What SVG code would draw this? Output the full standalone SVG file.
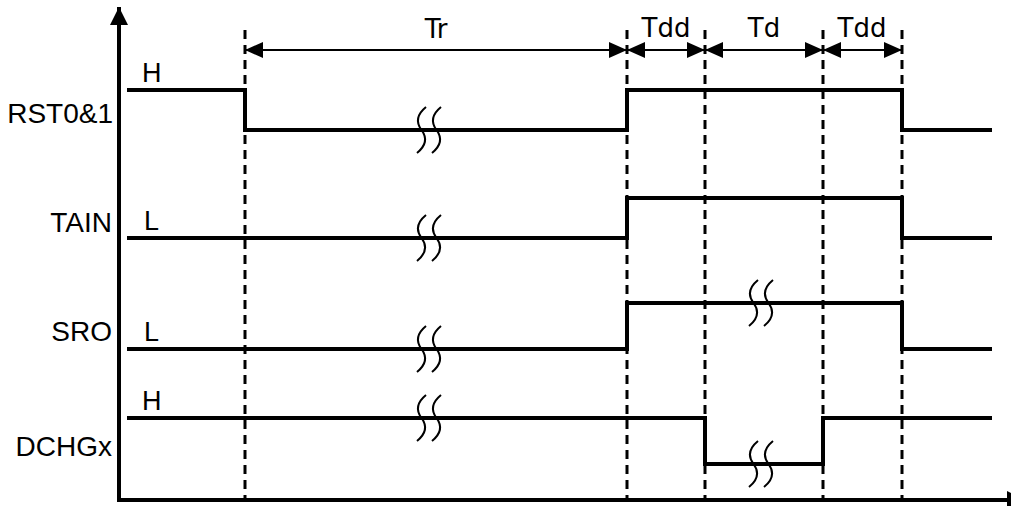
<svg xmlns="http://www.w3.org/2000/svg" xmlns:xlink="http://www.w3.org/1999/xlink" width="1011" height="506" viewBox="0 0 1011 506">
<style>
.sig{fill:none;stroke:#000;stroke-width:4;stroke-linejoin:miter;stroke-linecap:butt}
.axis{fill:none;stroke:#000;stroke-width:4}
.dash{fill:none;stroke:#000;stroke-width:3;stroke-dasharray:9 6}
.dim{fill:none;stroke:#000;stroke-width:2}
.brk{fill:none;stroke:#000;stroke-width:2}
.lbl{font-family:"Liberation Sans",Arial,sans-serif;font-size:28px;fill:#000}
.lv{font-family:"Liberation Sans",Arial,sans-serif;font-size:27px;fill:#000}
.tm{font-family:"DejaVu Sans",Verdana,sans-serif;font-size:26px;fill:#000;text-anchor:middle}
</style>
<defs>
<marker id="ah" viewBox="0 0 18 16" refX="18" refY="8" markerWidth="18" markerHeight="16" markerUnits="userSpaceOnUse" orient="auto-start-reverse">
<path d="M0,0 L18,8 L0,16 z" fill="#000"/>
</marker>
<marker id="axh" viewBox="0 0 18 18" refX="18" refY="9" markerWidth="18" markerHeight="18" markerUnits="userSpaceOnUse" orient="auto">
<path d="M0,0 L18,9 L0,18 z" fill="#000"/>
</marker>
<path id="brk" class="brk" d="M-3,-23 C-14,-14 -12,-6 -7.5,0 C-3,6 -1,14 -12,23 M12,-23 C1,-14 3,-6 7.5,0 C12,6 14,14 3,23"/>
</defs>
<g id="axes">
<line class="axis" x1="119" y1="502" x2="119" y2="7" marker-end="url(#axh)"/>
<line class="axis" x1="117" y1="500" x2="1025" y2="500" marker-end="url(#axh)"/>
</g>
<g id="guides">
<line class="dash" x1="245" y1="30" x2="245" y2="500"/>
<line class="dash" x1="627" y1="30" x2="627" y2="500"/>
<line class="dash" x1="705" y1="30" x2="705" y2="500"/>
<line class="dash" x1="823" y1="30" x2="823" y2="500"/>
<line class="dash" x1="902" y1="30" x2="902" y2="500"/>
</g>
<g id="connectors">
<line class="dim" x1="245" y1="50" x2="627" y2="50" marker-start="url(#ah)" marker-end="url(#ah)"/>
<line class="dim" x1="627" y1="50" x2="705" y2="50" marker-start="url(#ah)" marker-end="url(#ah)"/>
<line class="dim" x1="705" y1="50" x2="823" y2="50" marker-start="url(#ah)" marker-end="url(#ah)"/>
<line class="dim" x1="823" y1="50" x2="902" y2="50" marker-start="url(#ah)" marker-end="url(#ah)"/>
</g>
<g id="timing-labels">
<text class="tm" x="436" y="38">Tr</text>
<text class="tm" x="666" y="37">Tdd</text>
<text class="tm" x="764" y="37">Td</text>
<text class="tm" x="862" y="37">Tdd</text>
</g>
<g id="RST">
<text class="lbl" x="113" y="123" text-anchor="end">RST0&amp;1</text>
<text class="lv" x="142" y="82">H</text>
<path class="sig" d="M127,90 H245 V130 H627 V90 H902 V130 H992"/>
<use xlink:href="#brk" href="#brk" x="429" y="130"/>
</g>
<g id="TAIN">
<text class="lbl" x="112" y="232" text-anchor="end">TAIN</text>
<text class="lv" x="144" y="230">L</text>
<path class="sig" d="M127,238 H627 V198 H902 V238 H992"/>
<use xlink:href="#brk" href="#brk" x="429" y="238"/>
</g>
<g id="SRO">
<text class="lbl" x="112" y="341" text-anchor="end">SRO</text>
<text class="lv" x="144" y="341">L</text>
<path class="sig" d="M127,349 H627 V303 H902 V349 H992"/>
<use xlink:href="#brk" href="#brk" x="429" y="349"/>
<use xlink:href="#brk" href="#brk" x="761" y="303"/>
</g>
<g id="DCHGx">
<text class="lbl" x="112" y="456" text-anchor="end">DCHGx</text>
<text class="lv" x="142" y="410">H</text>
<path class="sig" d="M127,418 H705 V464 H823 V418 H992"/>
<use xlink:href="#brk" href="#brk" x="429" y="418"/>
<use xlink:href="#brk" href="#brk" x="761" y="464"/>
</g>
</svg>
